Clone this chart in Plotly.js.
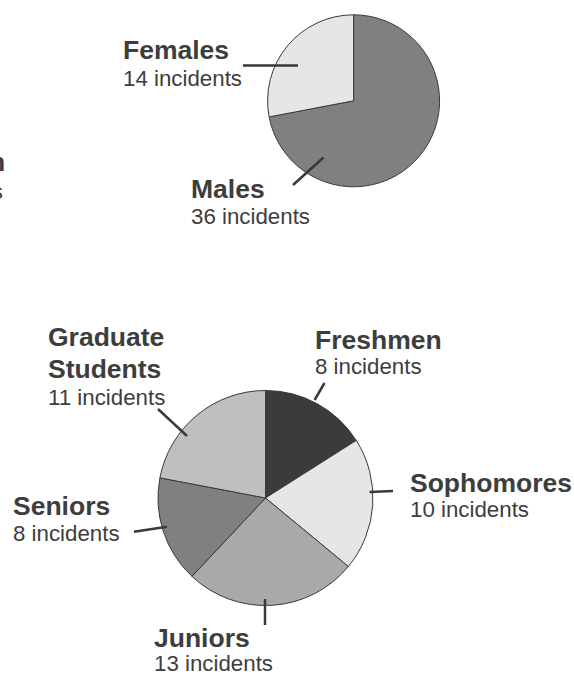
<!DOCTYPE html>
<html>
<head>
<meta charset="utf-8">
<script src="https://cdn.plot.ly/plotly-3.0.1.min.js"></script>
<style>html,body{margin:0;padding:0;background:#fff;}#chart{width:574px;height:676px;}</style>
</head>
<body>
<div id="chart"></div>
<script>
// ---- data ----
const genderLabels = ["Males", "Females"];
const genderValues = [36, 14];
const genderColors = ["#808080", "#e6e6e6"];

const yearLabels = ["Freshmen", "Sophomores", "Juniors", "Seniors", "Graduate Students"];
const yearValues = [8, 10, 13, 8, 11];
const yearColors = ["#3b3b3b", "#e6e6e6", "#a9a9a9", "#808080", "#bfbfbf"];

const W = 574, H = 676;
const px = x => x / W;
const py = y => 1 - y / H;

const lineCol = "#3a3a3a";
const textCol = "#3d3d3d";
const FONT = "Liberation Sans, Arial, sans-serif";
const BOLD = 26.5, REG = 22.3;

const traces = [
  {
    type: "pie", values: genderValues, labels: genderLabels, sort: false,
    direction: "clockwise", rotation: 0, textinfo: "none", hoverinfo: "label+value",
    marker: {colors: genderColors, line: {color: lineCol, width: 1}},
    domain: {x: [px(267.6), px(439.6)], y: [py(186.8), py(14.8)]}
  },
  {
    type: "pie", values: yearValues, labels: yearLabels, sort: false,
    direction: "clockwise", rotation: 0, textinfo: "none", hoverinfo: "label+value",
    marker: {colors: yearColors, line: {color: lineCol, width: 1}},
    domain: {x: [px(158), px(373)], y: [py(605.5), py(390.5)]}
  }
];

// label helper: positioned by baseline
function txt(text, x, baseline, size, bold, anchor) {
  return {
    xref: "paper", yref: "paper", x: px(x), y: py(baseline + 0.212 * size + 1),
    xanchor: anchor || "left", yanchor: "bottom", showarrow: false, align: anchor === "right" ? "right" : "left",
    text: bold ? "<b>" + text + "</b>" : text,
    font: {family: FONT, size: size, color: textCol}
  };
}
function countText(i, values) { return values[i] + " incidents"; }

const annotations = [
  txt("Females", 121, 60, BOLD, true),
  txt(countText(1, genderValues), 121, 87, REG, false),
  txt("Males", 189, 199, BOLD, true),
  txt(countText(0, genderValues), 189, 225, REG, false),

  txt("Graduate", 46, 347, BOLD, true),
  txt("Students", 46, 379, BOLD, true),
  txt(countText(4, yearValues), 46, 406, REG, false),
  txt("Freshmen", 313, 350, BOLD, true),
  txt(countText(0, yearValues), 313, 375, REG, false),
  txt("Sophomores", 408, 493, BOLD, true),
  txt(countText(1, yearValues), 408, 518, REG, false),
  txt("Seniors", 11, 516, BOLD, true),
  txt(countText(3, yearValues), 11, 542, REG, false),
  txt("Juniors", 152, 648, BOLD, true),
  txt(countText(2, yearValues), 152, 672, REG, false),

  // label of a neighbouring chart, cut off at the left edge as in the reference
  txt("Unknown", 6.5, 172, BOLD, true, "right"),
  txt("incidents", 4.5, 200, REG, false, "right")
];

function seg(x0, y0, x1, y1) {
  return {type: "line", xref: "paper", yref: "paper", x0: px(x0), y0: py(y0), x1: px(x1), y1: py(y1),
          line: {color: lineCol, width: 2.5}};
}
const shapes = [
  seg(243, 65.5, 298, 65.5),
  seg(293, 185, 323.5, 157.5),
  seg(158, 409, 187, 436),
  seg(324.5, 383, 314.6, 400),
  seg(369.6, 492, 393, 491),
  seg(134, 531.7, 167, 526.7),
  seg(265, 599, 265, 625)
];

Plotly.newPlot("chart", traces, {
  width: W, height: H, margin: {l: 0, r: 0, t: 0, b: 0},
  showlegend: false, paper_bgcolor: "#ffffff",
  annotations: annotations, shapes: shapes
}, {displayModeBar: false, staticPlot: true});
</script>
</body>
</html>
